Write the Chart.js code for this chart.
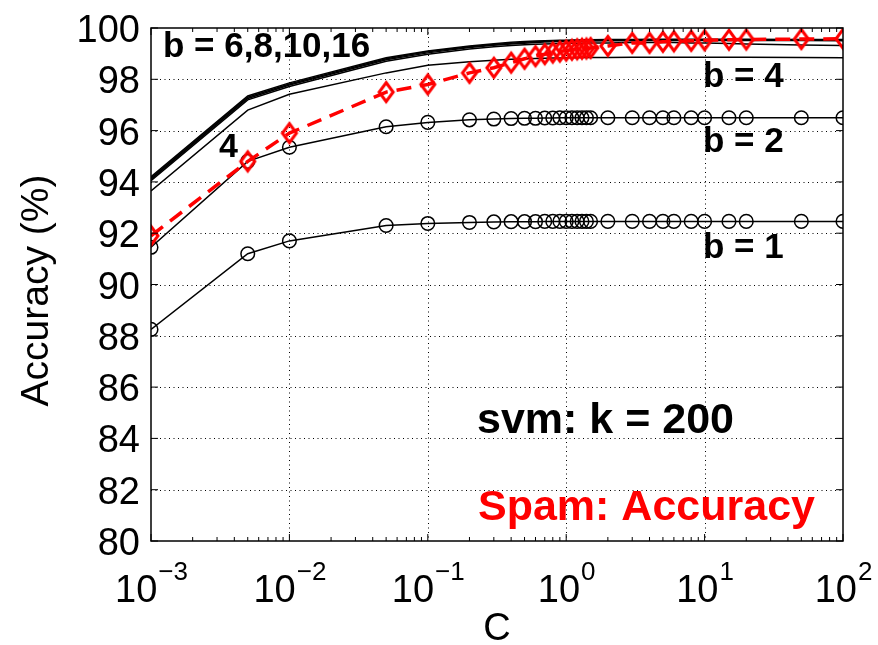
<!DOCTYPE html>
<html>
<head>
  <title>Spam: Accuracy</title>
  <script src="https://cdn.jsdelivr.net/npm/chart.js"></script>
  <style>body { margin: 0; background: #fff; }</style>
</head>
<body>
  <canvas id="myChart" width="878" height="645"></canvas>
  <script>
    // C values (x axis, log scale)
    const cValues = [0.001, 0.005, 0.01, 0.05, 0.1, 0.2, 0.3, 0.4, 0.5, 0.6, 0.7, 0.8, 0.9, 1, 1.1, 1.2, 1.3, 1.4, 1.5, 2, 3, 4, 5, 6, 8, 10, 15, 20, 50, 100];

    // accuracy (%) per b
    const accB1 = [88.25, 91.2, 91.7, 92.3, 92.38, 92.42, 92.44, 92.45, 92.45, 92.45, 92.46, 92.46, 92.46, 92.46, 92.46, 92.46, 92.46, 92.46, 92.46, 92.46, 92.46, 92.46, 92.46, 92.46, 92.46, 92.46, 92.46, 92.46, 92.46, 92.46];
    const accB2 = [91.45, 94.8, 95.35, 96.15, 96.32, 96.42, 96.45, 96.47, 96.48, 96.48, 96.49, 96.49, 96.5, 96.5, 96.5, 96.5, 96.5, 96.5, 96.5, 96.5, 96.5, 96.5, 96.5, 96.5, 96.5, 96.5, 96.5, 96.5, 96.5, 96.5];
    const accB4 = [93.65, 96.8, 97.42, 98.25, 98.55, 98.68, 98.74, 98.78, 98.8, 98.81, 98.82, 98.83, 98.83, 98.84, 98.84, 98.84, 98.85, 98.85, 98.85, 98.85, 98.86, 98.86, 98.86, 98.86, 98.86, 98.86, 98.86, 98.86, 98.85, 98.84];
    const accB6 = [94.05, 97.2, 97.72, 98.7, 98.98, 99.18, 99.27, 99.32, 99.35, 99.37, 99.38, 99.39, 99.4, 99.4, 99.41, 99.41, 99.41, 99.41, 99.42, 99.42, 99.43, 99.43, 99.43, 99.43, 99.42, 99.42, 99.4, 99.38, 99.34, 99.32];
    const accB8 = [94.1, 97.25, 97.78, 98.76, 99.03, 99.24, 99.33, 99.38, 99.41, 99.43, 99.45, 99.46, 99.47, 99.47, 99.48, 99.48, 99.48, 99.49, 99.49, 99.5, 99.5, 99.51, 99.51, 99.51, 99.51, 99.51, 99.51, 99.51, 99.51, 99.5];
    const accB10 = [94.15, 97.3, 97.82, 98.8, 99.07, 99.27, 99.36, 99.41, 99.44, 99.46, 99.48, 99.49, 99.5, 99.5, 99.51, 99.51, 99.51, 99.52, 99.52, 99.53, 99.53, 99.54, 99.54, 99.54, 99.54, 99.54, 99.54, 99.54, 99.53, 99.53];
    const accB16 = [94.2, 97.35, 97.86, 98.84, 99.1, 99.3, 99.39, 99.44, 99.47, 99.49, 99.5, 99.51, 99.52, 99.52, 99.53, 99.53, 99.53, 99.54, 99.54, 99.55, 99.55, 99.56, 99.56, 99.56, 99.56, 99.56, 99.56, 99.56, 99.55, 99.55];
    // red dashed series
    const accRed = [91.9, 94.8, 95.9, 97.5, 97.8, 98.25, 98.45, 98.65, 98.8, 98.9, 98.98, 99.04, 99.08, 99.12, 99.15, 99.17, 99.19, 99.2, 99.22, 99.3, 99.42, 99.42, 99.46, 99.48, 99.5, 99.52, 99.54, 99.55, 99.57, 99.58];

    // ticks
    const yTicks = [80, 82, 84, 86, 88, 90, 92, 94, 96, 98, 100];
    const xTicks = [0.001, 0.01, 0.1, 1, 10, 100];
    const xTickExps = ['\u22123', '\u22122', '\u22121', '0', '1', '2'];

    const FONT = '"Liberation Sans", Arial, sans-serif';
    const toPts = arr => cValues.map((c, i) => ({ x: c, y: arr[i] }));

    // tall hollow diamond like the matlab 'd' marker
    function diamondMarker() {
      const c = document.createElement('canvas');
      c.width = 22; c.height = 26;
      const g = c.getContext('2d');
      g.strokeStyle = '#ff0000';
      g.lineWidth = 3;
      g.beginPath();
      g.moveTo(11, 3.5); g.lineTo(18, 13); g.lineTo(11, 22.5); g.lineTo(4, 13);
      g.closePath();
      g.stroke();
      return c;
    }

    function plainLine(arr) {
      return { data: toPts(arr), borderColor: '#000', borderWidth: 1.5, pointRadius: 0, fill: false };
    }
    function circleLine(arr) {
      return {
        data: toPts(arr), borderColor: '#000', borderWidth: 1.5, fill: false,
        pointStyle: 'circle', pointRadius: 6.8, pointBorderWidth: 1.5,
        pointBorderColor: '#000', pointBackgroundColor: 'rgba(0,0,0,0)'
      };
    }

    // gridlines, frame, ticks and all texts
    const matlabAxes = {
      id: 'matlabAxes',
      beforeDatasetsDraw(chart) {
        const { ctx, chartArea: a, scales: { x, y } } = chart;
        ctx.save();
        ctx.strokeStyle = '#000';
        ctx.lineWidth = 1;
        ctx.setLineDash([1, 3.5]);
        xTicks.slice(1, -1).forEach(v => {
          const px = Math.round(x.getPixelForValue(v)) + 0.5;
          ctx.beginPath(); ctx.moveTo(px, a.top); ctx.lineTo(px, a.bottom); ctx.stroke();
        });
        yTicks.slice(1, -1).forEach(v => {
          const py = Math.round(y.getPixelForValue(v)) + 0.5;
          ctx.beginPath(); ctx.moveTo(a.left, py); ctx.lineTo(a.right, py); ctx.stroke();
        });
        ctx.restore();
      },
      afterDraw(chart) {
        const { ctx, chartArea: a, scales: { x, y } } = chart;
        ctx.save();
        ctx.strokeStyle = '#000';
        ctx.lineWidth = 1.5;
        ctx.strokeRect(a.left, a.top, a.right - a.left, a.bottom - a.top);

        // tick marks, inward
        ctx.lineWidth = 1;
        ctx.beginPath();
        yTicks.forEach(v => {
          const py = y.getPixelForValue(v);
          ctx.moveTo(a.left, py); ctx.lineTo(a.left + 7, py);
          ctx.moveTo(a.right, py); ctx.lineTo(a.right - 7, py);
        });
        for (let d = 0.001; d < 100; d *= 10) {
          for (let k = 1; k <= 9; k++) {
            const px = x.getPixelForValue(d * k);
            const len = k === 1 ? 7 : 4;
            ctx.moveTo(px, a.bottom); ctx.lineTo(px, a.bottom - len);
            ctx.moveTo(px, a.top); ctx.lineTo(px, a.top + len);
          }
        }
        const pEnd = x.getPixelForValue(100);
        ctx.moveTo(pEnd, a.bottom); ctx.lineTo(pEnd, a.bottom - 7);
        ctx.stroke();

        // y tick labels
        ctx.fillStyle = '#000';
        ctx.font = '38px ' + FONT;
        ctx.textAlign = 'right';
        ctx.textBaseline = 'alphabetic';
        yTicks.forEach(v => ctx.fillText(String(v), 140, y.getPixelForValue(v) + 14));

        // x tick labels 10^n
        ctx.textAlign = 'left';
        xTicks.forEach((v, i) => {
          ctx.font = '38px ' + FONT;
          const wBase = ctx.measureText('10').width;
          ctx.font = '26px ' + FONT;
          const wExp = ctx.measureText(xTickExps[i]).width;
          const left = x.getPixelForValue(v) - (wBase + wExp) / 2;
          ctx.font = '38px ' + FONT;
          ctx.fillText('10', left, 602);
          ctx.font = '26px ' + FONT;
          ctx.fillText(xTickExps[i], left + wBase + 1, 580);
        });

        // axis titles
        ctx.font = '38px ' + FONT;
        ctx.textAlign = 'center';
        ctx.fillText('C', (a.left + a.right) / 2, 640);
        ctx.save();
        ctx.translate(48, (a.top + a.bottom) / 2 + 6);
        ctx.rotate(-Math.PI / 2);
        ctx.font = '39px ' + FONT;
        ctx.fillText('Accuracy (%)', 0, 0);
        ctx.restore();

        // annotations
        ctx.textAlign = 'left';
        ctx.font = 'bold 35px ' + FONT;
        ctx.fillText('b = 6,8,10,16', 163, 57);
        ctx.fillText('b = 4', 703, 87);
        ctx.fillText('b = 2', 703, 152);
        ctx.fillText('b = 1', 703, 258);
        ctx.font = 'bold 34px ' + FONT;
        ctx.fillText('4', 219, 157);
        ctx.font = 'bold 43px ' + FONT;
        ctx.fillText('svm: k = 200', 477, 433);
        ctx.fillStyle = '#ff0000';
        ctx.fillText('Spam: Accuracy', 478, 520);
        ctx.restore();
      }
    };

    const chartConfig = {
      type: 'line',
      data: {
        datasets: [
          {
            data: toPts(accRed), borderColor: '#ff0000', borderWidth: 3.5, borderDash: [15, 9], fill: false,
            pointStyle: diamondMarker(), pointRadius: 9
          },
          circleLine(accB1),
          circleLine(accB2),
          plainLine(accB4),
          plainLine(accB6),
          plainLine(accB8),
          plainLine(accB10),
          plainLine(accB16)
        ]
      },
      options: {
        responsive: false,
        animation: false,
        devicePixelRatio: 1,
        layout: { padding: { top: 28, right: 35, left: 0, bottom: 0 } },
        plugins: { legend: { display: false }, tooltip: { enabled: false } },
        scales: {
          x: {
            type: 'logarithmic', min: 0.001, max: 100,
            ticks: { display: false }, grid: { display: false }, border: { display: false },
            afterFit: s => { s.height = 104; }
          },
          y: {
            type: 'linear', min: 80, max: 100,
            ticks: { display: false }, grid: { display: false }, border: { display: false },
            afterFit: s => { s.width = 151; }
          }
        }
      },
      plugins: [matlabAxes]
    };
    const myChart = new Chart(document.getElementById('myChart'), chartConfig);
  </script>
</body>
</html>
